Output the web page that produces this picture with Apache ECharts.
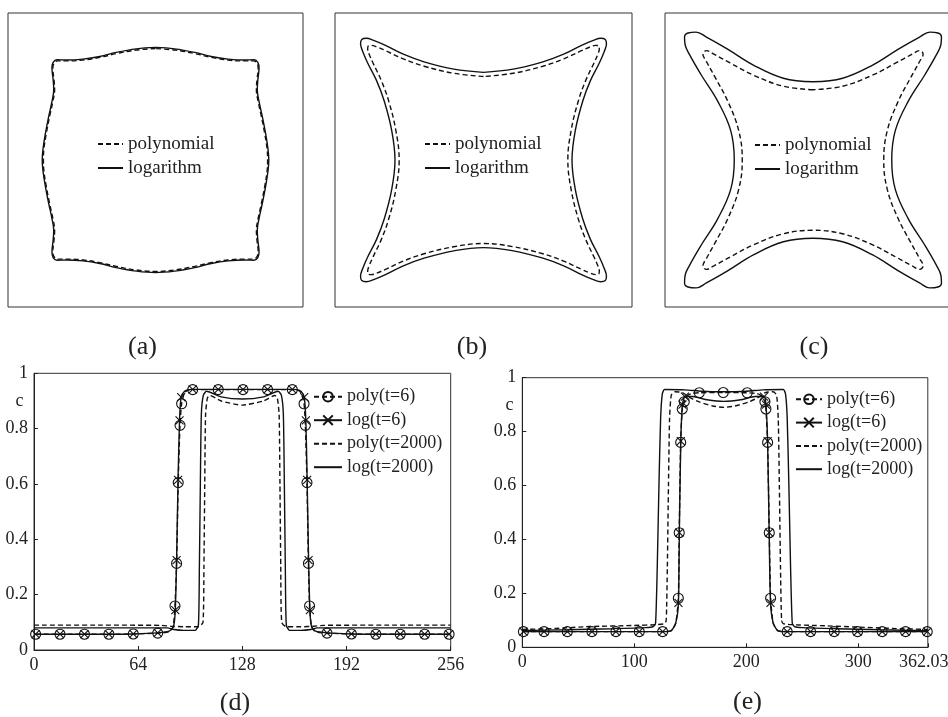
<!doctype html>
<html>
<head>
<meta charset="utf-8">
<script src="https://cdn.jsdelivr.net/npm/echarts@6/dist/echarts.min.js"></script>
</head>
<body style="margin:0;background:#fff">
<div id="main" style="width:948px;height:717px;"></div>
<script type="text/javascript">
var FONT = 'Liberation Serif';
var INK = '#111';

// top row: one quarter of each outline (top middle -> left middle), box is [-0.5, 0.5]
var aPoly = [[0,0.379],[-0.065,0.374],[-0.133,0.362],[-0.189,0.349],[-0.246,0.340],[-0.302,0.337],[-0.332,0.337],[-0.344,0.329],[-0.348,0.311],[-0.344,0.273],[-0.342,0.239],[-0.348,0.199],[-0.359,0.148],[-0.370,0.091],[-0.378,0.040],[-0.380,0]];
var aLog = [[0,0.383],[-0.065,0.378],[-0.133,0.366],[-0.189,0.352],[-0.246,0.343],[-0.302,0.340],[-0.334,0.341],[-0.347,0.332],[-0.351,0.313],[-0.347,0.273],[-0.345,0.239],[-0.351,0.199],[-0.362,0.148],[-0.373,0.091],[-0.381,0.040],[-0.384,0]];
var bPoly = [[0,0.284],[-0.1,0.295],[-0.2,0.319],[-0.27,0.344],[-0.33,0.372],[-0.36,0.385],[-0.378,0.39],[-0.388,0.388],[-0.39,0.378],[-0.385,0.36],[-0.372,0.33],[-0.344,0.27],[-0.319,0.2],[-0.295,0.1],[-0.284,0]];
var bLog = [[0,0.298],[-0.1,0.309],[-0.2,0.334],[-0.27,0.36],[-0.33,0.39],[-0.37,0.407],[-0.395,0.414],[-0.41,0.41],[-0.414,0.395],[-0.407,0.37],[-0.39,0.33],[-0.36,0.27],[-0.334,0.2],[-0.309,0.1],[-0.298,0]];
var cPoly = [[0,0.239],[-0.1,0.251],[-0.2,0.288],[-0.28,0.33],[-0.335,0.36],[-0.36,0.372],[-0.372,0.36],[-0.36,0.335],[-0.33,0.28],[-0.288,0.2],[-0.251,0.1],[-0.239,0]];
var cLog = [[0,0.266],[-0.1,0.278],[-0.2,0.322],[-0.29,0.378],[-0.36,0.418],[-0.395,0.435],[-0.422,0.432],[-0.434,0.418],[-0.432,0.392],[-0.418,0.36],[-0.378,0.29],[-0.322,0.2],[-0.278,0.1],[-0.266,0]];

// bottom row: [x, c, marker?]
var dPoly6 = [[1,0.057,1],[16,0.057,1],[31,0.057,1],[46,0.057,1],[61,0.058,1],[76,0.061,1],[83,0.066,0],[85.5,0.085,0],[86.6,0.159,1],[87.6,0.313,1],[88.6,0.605,1],[89.7,0.812,1],[90.7,0.89,1],[92.5,0.93,0],[95,0.94,0],[97.5,0.941,1],[113.2,0.941,1],[128.4,0.941,1],[143.5,0.941,1],[158.7,0.941,1],[161.5,0.94,0],[164,0.93,0],[165.9,0.89,1],[166.7,0.812,1],[167.7,0.605,1],[168.6,0.313,1],[169.3,0.159,1],[170.5,0.085,0],[173,0.066,0],[180,0.061,1],[195,0.058,1],[210,0.057,1],[225,0.057,1],[240,0.057,1],[255,0.057,1]];
var dLog6 = [[1,0.057,1],[16,0.057,1],[31,0.057,1],[46,0.057,1],[61,0.058,1],[76,0.062,1],[83,0.068,0],[85.7,0.085,0],[86.8,0.144,1],[87.6,0.325,1],[88.5,0.615,1],[89.4,0.83,1],[90.4,0.914,1],[92.5,0.935,0],[95,0.941,0],[97.5,0.942,1],[113.2,0.942,1],[128.4,0.942,1],[143.5,0.942,1],[158.7,0.942,1],[161.5,0.941,0],[164,0.935,0],[166,0.914,1],[167,0.83,1],[167.8,0.615,1],[168.7,0.325,1],[169.5,0.144,1],[170.5,0.085,0],[173,0.068,0],[180,0.062,1],[195,0.058,1],[210,0.057,1],[225,0.057,1],[240,0.057,1],[255,0.057,1]];
var dPoly2000 = [[0,0.09],[40,0.09],[78,0.089],[84,0.086],[92,0.084],[101,0.084],[103.8,0.1],[104.4,0.3],[104.9,0.6],[105.4,0.85],[106.5,0.91],[108,0.92],[115,0.9],[128,0.885],[141,0.9],[148,0.92],[149.5,0.91],[150.6,0.85],[151.1,0.6],[151.6,0.3],[152.2,0.1],[155,0.084],[164,0.084],[172,0.086],[178,0.089],[216,0.09],[256,0.09]];
var dLog2000 = [[0,0.08],[40,0.08],[82,0.08],[86,0.074],[92,0.071],[99,0.071],[101,0.09],[101.6,0.3],[102.2,0.6],[102.8,0.85],[104,0.92],[106,0.935],[115,0.915],[128,0.907],[141,0.915],[150,0.935],[152,0.92],[153.2,0.85],[153.8,0.6],[154.4,0.3],[155,0.09],[157,0.071],[164,0.071],[170,0.074],[174,0.08],[216,0.08],[256,0.08]];

var ePoly6 = [[1,0.058,1],[19.4,0.058,1],[40.2,0.058,1],[62.2,0.058,1],[83.6,0.058,1],[104.4,0.058,1],[125.3,0.058,1],[133,0.062,0],[137,0.09,0],[139.3,0.182,1],[140.1,0.425,1],[141.4,0.76,1],[142.8,0.884,1],[144.6,0.911,1],[148,0.935,0],[152,0.942,0],[158,0.944,1],[179.4,0.945,1],[200.8,0.944,1],[208.5,0.942,0],[213,0.935,0],[216.6,0.911,1],[217.5,0.884,1],[219,0.76,1],[220.5,0.425,1],[221.7,0.182,1],[224,0.09,0],[228,0.062,0],[236.5,0.058,1],[257.4,0.058,1],[278.5,0.058,1],[299.3,0.058,1],[321.3,0.058,1],[342.2,0.058,1],[361.5,0.058,1]];
var eLog6 = [[1,0.058,1],[19.4,0.058,1],[40.2,0.058,1],[62.2,0.058,1],[83.6,0.058,1],[104.4,0.058,1],[125.3,0.058,1],[133,0.062,0],[137,0.09,0],[139.4,0.165,1],[140.2,0.425,1],[141.5,0.765,1],[143,0.9,1],[145.2,0.93,1],[152,0.93,0],[165,0.918,0],[180,0.912,0],[195,0.918,0],[208,0.93,0],[215.8,0.93,1],[217.5,0.9,1],[219,0.765,1],[220.4,0.425,1],[221.6,0.165,1],[224,0.09,0],[228,0.062,0],[236.5,0.058,1],[257.4,0.058,1],[278.5,0.058,1],[299.3,0.058,1],[321.3,0.058,1],[342.2,0.058,1],[361.5,0.058,1]];
var ePoly2000 = [[0,0.066],[30,0.07],[60,0.077],[100,0.081],[120,0.084],[127,0.088],[128.5,0.1],[129.5,0.3],[130.5,0.6],[131.5,0.85],[133,0.935],[136,0.948],[143,0.945],[150,0.925],[158,0.91],[170,0.895],[180,0.89],[190,0.895],[202,0.91],[210,0.925],[217,0.945],[224,0.948],[227,0.935],[228.5,0.85],[229.5,0.6],[230.5,0.3],[231.5,0.1],[233,0.088],[240,0.084],[262,0.081],[300,0.075],[330,0.07],[362.03,0.066]];
var eLog2000 = [[0,0.062],[40,0.065],[80,0.069],[110,0.073],[117,0.077],[119,0.09],[120.5,0.3],[122,0.6],[123.5,0.85],[125,0.94],[127,0.956],[145,0.955],[160,0.95],[180,0.948],[200,0.95],[215,0.955],[233,0.956],[235,0.94],[236.5,0.85],[238,0.6],[239.5,0.3],[241,0.09],[243,0.077],[250,0.073],[280,0.069],[320,0.065],[362.03,0.062]];

var shapeNames = ['polynomial', 'logarithm'];
var plotNames = ['poly(t=6)', 'log(t=6)', 'poly(t=2000)', 'log(t=2000)'];
var yTicks = {min: 0, max: 1, interval: 0.2};
var dX = {min: 0, max: 256, interval: 64};
var eX = {min: 0, max: 362.03, interval: 100};

var CROSS = 'path://M0,0L10,10M10,0L0,10';

// mirror a quarter outline into a closed curve
function closeShape(q) {
	var out = [], i, n = q.length;
	for (i = 0; i < n; i++) out.push([q[i][0], q[i][1]]);
	for (i = n - 2; i >= 0; i--) out.push([q[i][0], -q[i][1]]);
	for (i = 1; i < n; i++) out.push([-q[i][0], -q[i][1]]);
	for (i = n - 2; i >= 0; i--) out.push([-q[i][0], q[i][1]]);
	return out;
}

function shapeSeries(idx, q, name, dashed) {
	return {
		type: 'line', name: name, xAxisIndex: idx, yAxisIndex: idx,
		data: closeShape(q), smooth: 0.4, showSymbol: false,
		symbol: 'circle', symbolSize: 0,
		itemStyle: {color: 'transparent', borderWidth: 0},
		lineStyle: {color: INK, width: 1.4, type: dashed ? [5, 3] : 'solid'},
		silent: true
	};
}

function plotSeries(idx, pts, name, dashed, mark) {
	var data = pts.map(function (p) {
		var item = {value: [p[0], p[1]]};
		if (!p[2]) item.symbol = 'none';
		return item;
	});
	return {
		type: 'line', name: name, xAxisIndex: idx, yAxisIndex: idx,
		data: data, smooth: 0.2, showSymbol: true,
		symbol: mark || 'circle',
		symbolSize: mark === 'circle' ? 10 : (mark ? 8 : 0),
		itemStyle: {color: 'transparent', borderColor: INK, borderWidth: mark ? 1.1 : 0},
		lineStyle: {color: INK, width: 1.4, type: dashed ? [5, 3] : 'solid'},
		silent: true
	};
}

var legendBase = {
	orient: 'vertical', padding: 0, itemGap: 4, itemWidth: 25, itemHeight: 12,
	selectedMode: false,
	textStyle: {fontFamily: FONT, fontSize: 18, color: '#222', lineHeight: 20}
};
function legendAt(left, top, names, w, gap, fs) {
	var l = echarts.util.merge({}, legendBase, true);
	l.left = left; l.top = top; l.data = names;
	if (w) l.itemWidth = w;
	if (gap != null) l.itemGap = gap;
	if (fs) l.textStyle = {fontFamily: FONT, fontSize: fs, color: '#222', lineHeight: 20};
	return l;
}

function hiddenAxis(i) {
	return {gridIndex: i, type: 'value', min: -0.5, max: 0.5, show: false};
}
function plotAxis(i, sc) {
	return {
		gridIndex: i, type: 'value', min: sc.min, max: sc.max, interval: sc.interval,
		axisLine: {show: true, lineStyle: {color: '#222', width: 1}},
		axisTick: {show: true, inside: true, length: 4, lineStyle: {color: '#222'}},
		axisLabel: {fontFamily: FONT, fontSize: 18, color: '#222', margin: 6, showMaxLabel: true},
		splitLine: {show: false}
	};
}

var box = {show: true, borderColor: '#333', borderWidth: 1, backgroundColor: 'transparent', outerBoundsMode: 'none', containLabel: false};
function grid(l, t, w, h) {
	return echarts.util.extend({left: l, top: t, width: w, height: h}, box);
}

var chart = echarts.init(document.getElementById('main'), null, {renderer: 'canvas'});

function label(txt, x, y, size) {
	return {
		type: 'text', x: x, y: y,
		style: {text: txt, fill: '#222', font: size + 'px "' + FONT + '"', align: 'center', verticalAlign: 'middle', textAlign: 'center', textVerticalAlign: 'middle'}
	};
}

var eXAxis = plotAxis(4, eX);
// the last label (362.03) sits a little left so it stays on the page
eXAxis.axisLabel.formatter = function (v) {
	return v === eX.max ? '{m|' + v + '}' : String(v);
};
eXAxis.axisLabel.rich = {m: {fontFamily: FONT, fontSize: 18, color: '#222', padding: [0, 8, 0, 0]}};

var option = {
	animation: false,
	backgroundColor: '#fff',
	grid: [
		grid(8, 13, 295, 294),
		grid(335, 13, 297, 294),
		grid(665, 13, 296, 294),
		grid(34, 373.3, 416.7, 276.7),
		grid(522.3, 377.7, 405.5, 269.6)
	],
	xAxis: [hiddenAxis(0), hiddenAxis(1), hiddenAxis(2), plotAxis(3, dX), eXAxis],
	yAxis: [hiddenAxis(0), hiddenAxis(1), hiddenAxis(2), plotAxis(3, yTicks), plotAxis(4, yTicks)],
	legend: [
		legendAt(97, 134, shapeNames, null, null, 19),
		legendAt(424, 134, shapeNames, null, null, 19),
		legendAt(754, 135, shapeNames, null, null, 19),
		legendAt(313, 386.7, plotNames, 28, 3.5),
		legendAt(795, 389.3, plotNames, 26, 3.3)
	],
	series: [
		shapeSeries(0, aPoly, 'polynomial', true),
		shapeSeries(0, aLog, 'logarithm', false),
		shapeSeries(1, bPoly, 'polynomial', true),
		shapeSeries(1, bLog, 'logarithm', false),
		shapeSeries(2, cPoly, 'polynomial', true),
		shapeSeries(2, cLog, 'logarithm', false),

		plotSeries(3, dPoly6, 'poly(t=6)', true, 'circle'),
		plotSeries(3, dLog6, 'log(t=6)', false, CROSS),
		plotSeries(3, dPoly2000, 'poly(t=2000)', true),
		plotSeries(3, dLog2000, 'log(t=2000)', false),

		plotSeries(4, ePoly6, 'poly(t=6)', true, 'circle'),
		plotSeries(4, eLog6, 'log(t=6)', false, CROSS),
		plotSeries(4, ePoly2000, 'poly(t=2000)', true),
		plotSeries(4, eLog2000, 'log(t=2000)', false)
	],
	graphic: [
		label('(a)', 142.5, 347, 26),
		label('(b)', 472, 347, 26),
		label('(c)', 814, 347, 26),
		label('(d)', 235, 703, 26),
		label('(e)', 747.5, 702.5, 26),
		label('c', 19.5, 401.5, 18),
		label('c', 509.5, 405, 18)
	]
};

chart.setOption(option);
</script>
</body>
</html>
